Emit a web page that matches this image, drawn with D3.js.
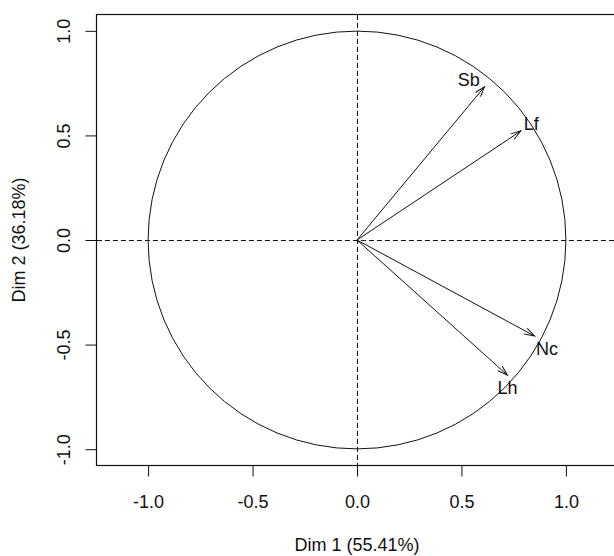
<!DOCTYPE html>
<html>
<head>
<meta charset="utf-8">
<script src="https://cdn.jsdelivr.net/npm/d3@7"></script>
<style>
  html, body { margin: 0; padding: 0; background: #fff; }
  svg { display: block; font-family: "Liberation Sans", Arial, sans-serif; }
</style>
</head>
<body>
<svg id="chart" width="614" height="556"></svg>
<script>
// ---- data ----
const varNames = ["Sb", "Lf", "Nc", "Lh"];
const dim1 = [0.61, 0.784, 0.85, 0.72];
const dim2 = [0.732, 0.521, -0.459, -0.646];
const labelX = [0.535, 0.834, 0.91, 0.72];
const labelY = [0.766, 0.555, -0.52, -0.708];
const tickValues = [-1.0, -0.5, 0.0, 0.5, 1.0];
const xTitle = "Dim 1 (55.41%)";
const yTitle = "Dim 2 (36.18%)";

// ---- layout ----
const svg = d3.select("#chart");
const boxL = 96.5, boxT = 14.5, boxR = 617.5, boxB = 465.5;
const x = d3.scaleLinear().domain([-1.247, 1.247]).range([boxL, boxR]);
const y = d3.scaleLinear().domain([-1.078, 1.078]).range([boxB, boxT]);
const ink = "#111";
const fmt = d => d.toFixed(1);

svg.append("rect").attr("width", 614).attr("height", 556).attr("fill", "#fff");

svg.append("defs").append("marker")
  .attr("id", "arrow")
  .attr("markerUnits", "userSpaceOnUse")
  .attr("markerWidth", 14).attr("markerHeight", 14)
  .attr("viewBox", "-12 -6 14 12")
  .attr("refX", 0).attr("refY", 0)
  .attr("orient", "auto")
  .append("path")
  .attr("d", "M-10,-3.2 L0,0 L-10,3.2")
  .attr("fill", "none").attr("stroke", ink).attr("stroke-width", 1);

const plot = svg.append("g");

// circle
plot.append("circle")
  .attr("cx", x(0)).attr("cy", y(0))
  .attr("r", x(1) - x(0))
  .attr("fill", "none").attr("stroke", ink).attr("stroke-width", 1);

// dashed reference lines
plot.append("line")
  .attr("x1", boxL).attr("x2", boxR).attr("y1", y(0)).attr("y2", y(0))
  .attr("stroke", ink).attr("stroke-dasharray", "5,3").attr("stroke-width", 1)
  .attr("shape-rendering", "crispEdges");
plot.append("line")
  .attr("x1", x(0)).attr("x2", x(0)).attr("y1", boxT).attr("y2", boxB)
  .attr("stroke", ink).attr("stroke-dasharray", "5,3").attr("stroke-width", 1)
  .attr("shape-rendering", "crispEdges");

// arrows
const vars = varNames.map((n, i) => ({ n, a: dim1[i], b: dim2[i], lx: labelX[i], ly: labelY[i] }));
plot.selectAll("line.arr").data(vars).enter().append("line")
  .attr("class", "arr")
  .attr("x1", x(0)).attr("y1", y(0))
  .attr("x2", d => x(d.a)).attr("y2", d => y(d.b))
  .attr("stroke", ink).attr("stroke-width", 1)
  .attr("marker-end", "url(#arrow)");

plot.selectAll("text.lab").data(vars).enter().append("text")
  .attr("class", "lab")
  .attr("x", d => x(d.lx)).attr("y", d => y(d.ly))
  .attr("text-anchor", "middle").attr("dominant-baseline", "central")
  .attr("font-size", 18).attr("fill", ink)
  .text(d => d.n);

// box
svg.append("rect")
  .attr("x", boxL).attr("y", boxT)
  .attr("width", boxR - boxL).attr("height", boxB - boxT)
  .attr("fill", "none").attr("stroke", ink).attr("stroke-width", 1.2);

// axes
const xAxis = svg.append("g")
  .attr("transform", `translate(0,${boxB})`)
  .call(d3.axisBottom(x).tickValues(tickValues).tickFormat(fmt).tickSize(11));
xAxis.select(".domain").remove();
xAxis.selectAll("line").attr("stroke", ink);
xAxis.selectAll("text").attr("font-size", 18).attr("fill", ink)
  .attr("font-family", "Liberation Sans, Arial, sans-serif")
  .attr("y", 42).attr("dy", "0");

const yAxis = svg.append("g")
  .attr("transform", `translate(${boxL},0)`)
  .call(d3.axisLeft(y).tickValues(tickValues).tickFormat(fmt).tickSize(11));
yAxis.select(".domain").remove();
yAxis.selectAll("line").attr("stroke", ink);
yAxis.selectAll("text")
  .attr("font-size", 18).attr("fill", ink)
  .attr("font-family", "Liberation Sans, Arial, sans-serif")
  .attr("x", 0).attr("y", 0).attr("dy", "0")
  .attr("text-anchor", "middle")
  .attr("transform", "translate(-26.5,0) rotate(-90)");

// titles
svg.append("text")
  .attr("x", x(0)).attr("y", 551)
  .attr("text-anchor", "middle").attr("font-size", 18).attr("fill", ink)
  .text(xTitle);
svg.append("text")
  .attr("transform", `translate(25,${y(0)}) rotate(-90)`)
  .attr("text-anchor", "middle").attr("font-size", 18).attr("fill", ink)
  .text(yTitle);
</script>
</body>
</html>
